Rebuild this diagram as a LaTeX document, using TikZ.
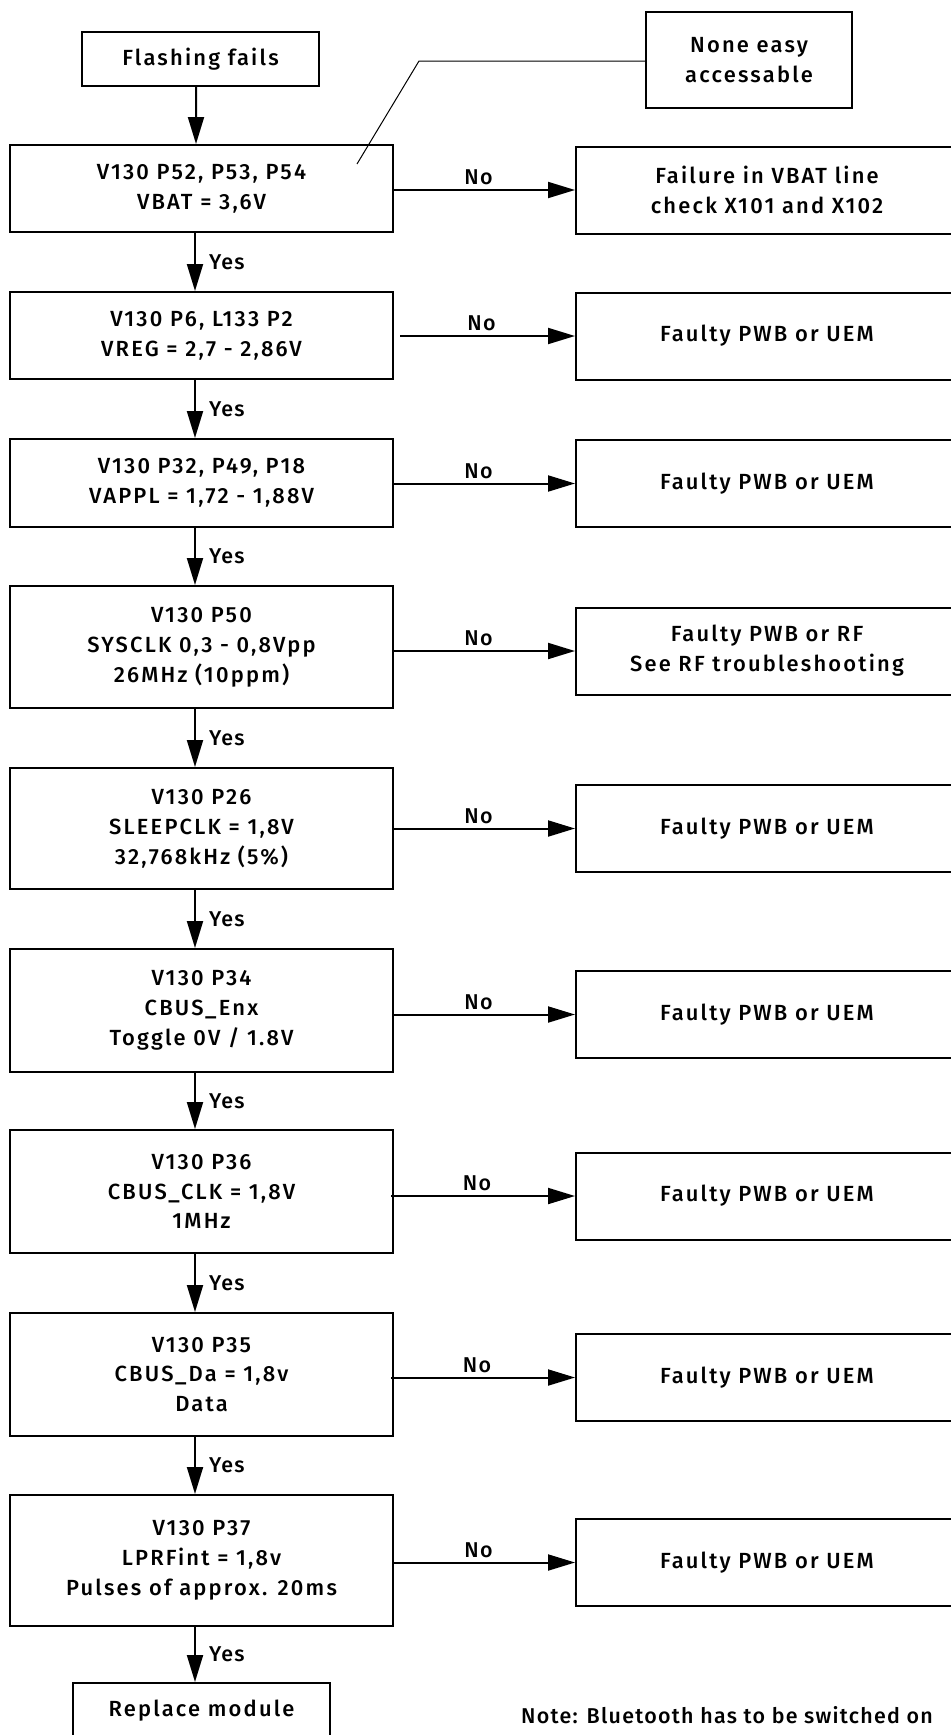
\documentclass[tikz,border=0pt]{standalone}
\usepackage{fontspec}
\setmainfont{Fira Sans Medium}[LetterSpace=6]
\newfontfamily\boxfont{Fira Sans Medium}[LetterSpace=10]
\usetikzlibrary{arrows.meta}
\begin{document}
\begin{tikzpicture}[x=1bp,y=-1bp,
  every node/.style={font=\fontsize{21.5}{30}\selectfont},
  box/.style={draw, line width=2bp, align=center, inner sep=0pt, font=\boxfont\fontsize{22}{30}\selectfont},
  lbox/.style={box, minimum width=383bp},
  rbox/.style={box, minimum width=382bp, minimum height=87bp},
  arr/.style={line width=2bp, -{Triangle[length=27bp,width=16bp]}},
  lbl/.style={inner sep=2bp}]
\useasboundingbox (0,0) rectangle (950,1735);

% top
\node[box, minimum width=237bp, minimum height=54bp] (flash) at (200.5,59) {Flashing fails};
\node[box, minimum width=206bp, minimum height=95bp] (none) at (749,60) {None easy\\accessable};

% left column
\node[lbox, minimum height=87bp] (b1) at (201.5,188.5) {V130 P52, P53, P54\\VBAT = 3,6V};
\node[lbox, minimum height=87bp] (b2) at (201.5,335.5) {V130 P6, L133 P2\\VREG = 2,7 - 2,86V};
\node[lbox, minimum height=88bp] (b3) at (201.5,483) {V130 P32, P49, P18\\VAPPL = 1,72 - 1,88V};
\node[lbox, minimum height=122bp] (b4) at (201.5,647) {V130 P50\\SYSCLK 0,3 - 0,8Vpp\\26MHz (10ppm)};
\node[lbox, minimum height=121bp] (b5) at (201.5,828.5) {V130 P26\\SLEEPCLK = 1,8V\\32,768kHz (5\%)};
\node[lbox, minimum height=123bp] (b6) at (201.5,1010.5) {V130 P34\\CBUS\_Enx\\Toggle 0V / 1.8V};
\node[lbox, minimum height=123bp] (b7) at (201.5,1191.5) {V130 P36\\CBUS\_CLK = 1,8V\\1MHz};
\node[lbox, minimum height=123bp] (b8) at (201.5,1374.5) {V130 P35\\CBUS\_Da = 1,8v\\Data};
\node[lbox, minimum height=131bp] (b9) at (201.5,1560.5) {V130 P37\\LPRFint = 1,8v\\Pulses of approx. 20ms};
\node[box, minimum width=257bp, minimum height=56bp] (rep) at (201.5,1711) {Replace module};

% right column
\node[rbox] (r1) at (767,190) {Failure in VBAT line\\check X101 and X102};
\node[rbox] (r2) at (767,336) {Faulty PWB or UEM};
\node[rbox] (r3) at (767,483.5) {Faulty PWB or UEM};
\node[rbox] (r4) at (767,651) {Faulty PWB or RF\\See RF troubleshooting};
\node[rbox] (r5) at (767,828.5) {Faulty PWB or UEM};
\node[rbox] (r6) at (767,1014.5) {Faulty PWB or UEM};
\node[rbox] (r7) at (767,1196) {Faulty PWB or UEM};
\node[rbox] (r8) at (767,1377.5) {Faulty PWB or UEM};
\node[rbox] (r9) at (767,1562.5) {Faulty PWB or UEM};

\node[anchor=base] (note) at (727,1723) {Note: Bluetooth has to be switched on};

% leader line
\coordinate (lead) at (357,164);
\coordinate (bend) at (419,61);
\draw[line width=1bp] (lead) -- (bend) -- (bend -| none.west);

% vertical Yes arrows
\draw[arr] ([xshift=-4.5bp]flash.south) -- ([xshift=-5.5bp]b1.north);
\foreach \a/\b in {b1/b2,b2/b3,b3/b4,b4/b5,b5/b6,b6/b7,b7/b8,b8/b9,b9/rep}{
  \draw[arr] ([xshift=-6.5bp]\a.south) -- node[right, lbl, pos=0.5, xshift=11bp] {Yes} ([xshift=-6.5bp]\b.north);
}

% horizontal No arrows
\foreach \a/\b/\s in {b1/r1/0,b2/r2/6,b3/r3/0,b4/r4/0,b5/r5/0,b6/r6/0,b7/r7/-3,b8/r8/-3,b9/r9/0}{
  \draw[arr] ([xshift=\s bp]\a.east |- \b.west) -- node[above, lbl, xshift=-6bp, yshift=2bp] {No} (\b.west);
}
\end{tikzpicture}
\end{document}
